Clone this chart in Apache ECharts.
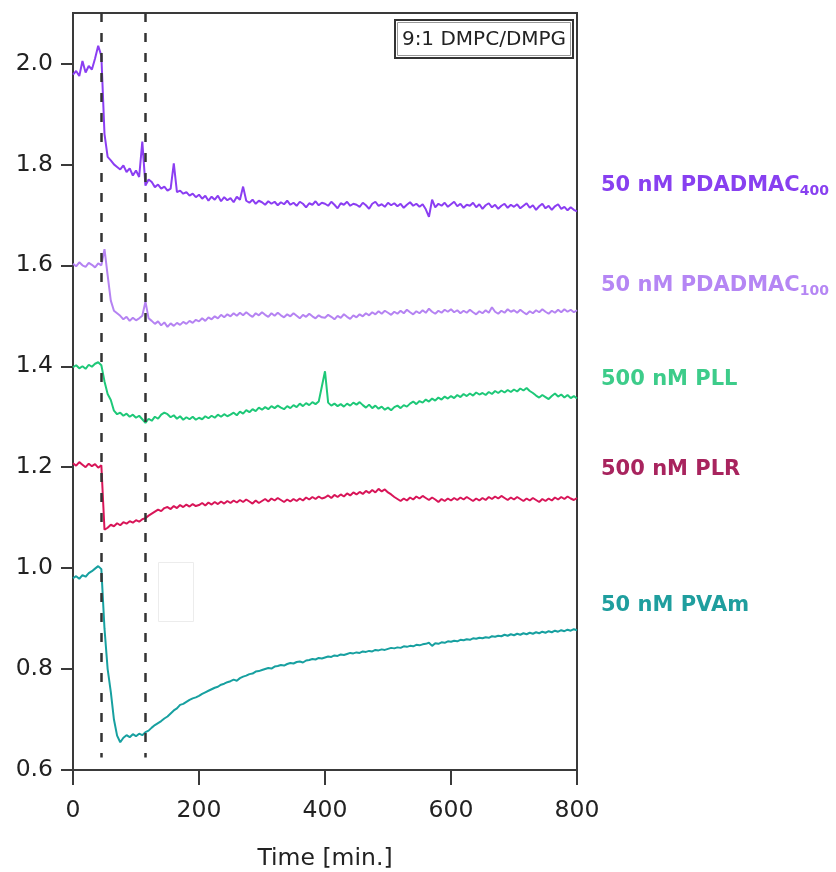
<!DOCTYPE html>
<html><head><meta charset="utf-8">
<script src="https://cdn.jsdelivr.net/npm/echarts@6/dist/echarts.min.js"></script>
<style>html,body{margin:0;padding:0;background:#fff}#c{width:836px;height:872px}</style>
</head><body><div id="c"></div>
<script>
// Sampling times (min)
const times = [0,5,10,15,20,25,30,35,40,45,50,55,60,65,70,75,80,85,90,95,
100,105,110,115,120,125,130,135,140,145,150,155,160,165,170,175,180,185,190,195,
200,205,210,215,220,225,230,235,240,245,250,255,260,265,270,275,280,285,290,295,
300,305,310,315,320,325,330,335,340,345,350,355,360,365,370,375,380,385,390,395,
400,405,410,415,420,425,430,435,440,445,450,455,460,465,470,475,480,485,490,495,
500,505,510,515,520,525,530,535,540,545,550,555,560,565,570,575,580,585,590,595,
600,605,610,615,620,625,630,635,640,645,650,655,660,665,670,675,680,685,690,695,
700,705,710,715,720,725,730,735,740,745,750,755,760,765,770,775,780,785,790,795,800];

const pdadmac400 = [1.978,1.985,1.975,2.005,1.982,1.995,1.988,2.010,2.035,2.015,
1.860,1.815,1.808,1.800,1.795,1.790,1.798,1.785,1.792,1.778,
1.788,1.775,1.845,1.758,1.770,1.765,1.755,1.760,1.752,1.756,
1.748,1.752,1.802,1.745,1.748,1.742,1.745,1.738,1.742,1.735,
1.740,1.732,1.738,1.728,1.736,1.730,1.738,1.727,1.735,1.729,
1.733,1.725,1.736,1.730,1.756,1.728,1.724,1.730,1.722,1.728,
1.725,1.720,1.727,1.722,1.726,1.719,1.725,1.721,1.728,1.720,
1.724,1.718,1.726,1.722,1.715,1.723,1.720,1.727,1.719,1.724,
1.722,1.718,1.726,1.720,1.713,1.723,1.720,1.726,1.718,1.722,
1.720,1.716,1.724,1.719,1.712,1.722,1.726,1.718,1.721,1.716,
1.724,1.719,1.723,1.717,1.722,1.714,1.720,1.725,1.718,1.722,
1.716,1.721,1.711,1.696,1.730,1.715,1.722,1.718,1.724,1.716,
1.721,1.726,1.717,1.722,1.714,1.720,1.718,1.724,1.715,1.721,
1.712,1.719,1.723,1.715,1.720,1.712,1.718,1.722,1.714,1.720,
1.716,1.721,1.713,1.718,1.723,1.714,1.719,1.710,1.717,1.722,
1.713,1.718,1.710,1.717,1.721,1.712,1.716,1.709,1.715,1.710,1.707];

const pdadmac100 = [1.603,1.598,1.606,1.600,1.597,1.605,1.601,1.596,1.604,1.600,
1.632,1.580,1.530,1.510,1.505,1.500,1.493,1.498,1.490,1.496,
1.491,1.495,1.500,1.528,1.495,1.490,1.484,1.489,1.481,1.487,
1.478,1.485,1.480,1.486,1.482,1.488,1.484,1.490,1.486,1.492,
1.489,1.495,1.490,1.497,1.493,1.499,1.495,1.502,1.497,1.503,
1.499,1.505,1.500,1.506,1.501,1.507,1.502,1.498,1.505,1.501,
1.507,1.502,1.498,1.505,1.500,1.506,1.501,1.497,1.503,1.499,
1.505,1.500,1.495,1.502,1.498,1.504,1.499,1.495,1.501,1.497,
1.496,1.502,1.498,1.493,1.500,1.496,1.503,1.498,1.494,1.501,
1.497,1.503,1.499,1.505,1.501,1.507,1.503,1.509,1.504,1.510,
1.506,1.502,1.508,1.504,1.510,1.505,1.512,1.507,1.503,1.509,
1.505,1.511,1.506,1.514,1.508,1.504,1.510,1.506,1.512,1.508,
1.513,1.507,1.511,1.505,1.510,1.506,1.512,1.507,1.503,1.509,
1.505,1.511,1.506,1.517,1.508,1.504,1.510,1.506,1.513,1.508,
1.511,1.506,1.512,1.507,1.503,1.509,1.505,1.511,1.507,1.513,
1.508,1.504,1.510,1.506,1.512,1.507,1.513,1.508,1.512,1.507,1.511];

const pll = [1.398,1.402,1.396,1.400,1.395,1.403,1.399,1.405,1.408,1.402,
1.370,1.345,1.333,1.312,1.305,1.308,1.302,1.306,1.300,1.304,
1.298,1.302,1.295,1.288,1.296,1.292,1.300,1.296,1.304,1.308,
1.305,1.299,1.303,1.296,1.301,1.294,1.299,1.295,1.300,1.294,
1.298,1.295,1.301,1.297,1.302,1.298,1.304,1.300,1.305,1.301,
1.304,1.308,1.303,1.310,1.306,1.313,1.309,1.315,1.311,1.318,
1.314,1.319,1.315,1.321,1.317,1.322,1.318,1.315,1.321,1.317,
1.323,1.319,1.326,1.321,1.327,1.323,1.329,1.325,1.330,1.360,
1.390,1.328,1.322,1.326,1.321,1.325,1.320,1.326,1.322,1.328,
1.324,1.329,1.323,1.318,1.324,1.317,1.322,1.316,1.320,1.314,
1.318,1.313,1.319,1.322,1.317,1.323,1.320,1.326,1.330,1.325,
1.331,1.328,1.334,1.330,1.336,1.332,1.338,1.334,1.340,1.336,
1.341,1.337,1.343,1.339,1.345,1.341,1.346,1.342,1.348,1.344,
1.347,1.343,1.349,1.345,1.351,1.347,1.352,1.348,1.353,1.349,
1.354,1.350,1.356,1.352,1.357,1.351,1.347,1.342,1.338,1.343,
1.339,1.335,1.341,1.346,1.340,1.344,1.338,1.343,1.337,1.341,1.336];

const plr = [1.208,1.203,1.210,1.205,1.200,1.207,1.202,1.206,1.199,1.204,
1.076,1.080,1.086,1.083,1.089,1.085,1.091,1.088,1.093,1.090,
1.095,1.092,1.097,1.099,1.104,1.108,1.112,1.116,1.113,1.119,
1.121,1.117,1.123,1.119,1.125,1.121,1.126,1.122,1.127,1.123,
1.125,1.129,1.124,1.130,1.126,1.131,1.127,1.132,1.128,1.133,
1.129,1.134,1.130,1.135,1.131,1.136,1.132,1.128,1.134,1.129,
1.133,1.137,1.132,1.138,1.134,1.139,1.135,1.131,1.136,1.132,
1.137,1.133,1.138,1.134,1.140,1.136,1.141,1.137,1.142,1.138,
1.140,1.144,1.139,1.145,1.141,1.146,1.142,1.148,1.144,1.150,
1.146,1.151,1.147,1.153,1.149,1.155,1.150,1.157,1.152,1.156,
1.150,1.146,1.141,1.137,1.133,1.138,1.134,1.140,1.136,1.142,
1.138,1.143,1.139,1.135,1.140,1.136,1.131,1.137,1.133,1.138,
1.134,1.139,1.135,1.140,1.136,1.141,1.137,1.133,1.138,1.134,
1.139,1.135,1.141,1.137,1.142,1.138,1.143,1.139,1.135,1.140,
1.136,1.141,1.137,1.133,1.138,1.134,1.139,1.135,1.131,1.137,
1.133,1.138,1.134,1.140,1.136,1.141,1.137,1.142,1.138,1.135,1.139];

const pvam = [0.980,0.984,0.979,0.986,0.983,0.990,0.994,0.999,1.004,0.998,
0.880,0.800,0.755,0.700,0.668,0.655,0.664,0.669,0.665,0.671,
0.667,0.672,0.669,0.675,0.678,0.684,0.689,0.693,0.697,0.702,
0.706,0.712,0.718,0.722,0.729,0.731,0.735,0.739,0.742,0.744,
0.747,0.751,0.754,0.757,0.760,0.763,0.765,0.769,0.771,0.774,
0.776,0.779,0.777,0.782,0.785,0.787,0.790,0.791,0.795,0.796,
0.798,0.800,0.802,0.801,0.805,0.806,0.808,0.807,0.810,0.812,
0.811,0.814,0.815,0.813,0.817,0.818,0.820,0.819,0.822,0.821,
0.823,0.825,0.824,0.827,0.826,0.829,0.828,0.830,0.832,0.831,
0.833,0.832,0.835,0.834,0.836,0.835,0.838,0.837,0.839,0.838,
0.840,0.842,0.841,0.843,0.842,0.845,0.844,0.846,0.845,0.848,
0.847,0.849,0.850,0.852,0.846,0.851,0.850,0.853,0.852,0.855,
0.854,0.856,0.855,0.858,0.857,0.859,0.858,0.861,0.860,0.862,
0.861,0.863,0.862,0.865,0.864,0.866,0.865,0.868,0.866,0.869,
0.867,0.870,0.868,0.871,0.869,0.872,0.870,0.873,0.871,0.874,
0.872,0.875,0.873,0.876,0.874,0.877,0.875,0.878,0.876,0.879,0.877];

const xTicks = [0, 200, 400, 600, 800];
const yTicks = [0.6, 0.8, 1.0, 1.2, 1.4, 1.6, 1.8, 2.0];
const injectionTimes = [45, 114];
const seriesNames = ['50 nM PDADMAC400', '50 nM PDADMAC100', '500 nM PLL', '500 nM PLR', '50 nM PVAm'];
const seriesValues = [pdadmac400, pdadmac100, pll, plr, pvam];
const lineColors = ['#8b3ef2', '#b583f2', '#1ec878', '#d81558', '#17a0a0'];
const labelColors = ['#8840f0', '#b586f4', '#3dcc8a', '#a8245e', '#1f9e9e'];
const labelRich = ['{m|50 nM PDADMAC}{s|400}', '{m|50 nM PDADMAC}{s|100}', '{m|500 nM PLL}', '{m|500 nM PLR}', '{m|50 nM PVAm}'];
const labelY = [186, 286, 380, 470, 606];

const FONT = 'DejaVu Sans';
const AX = '#3a3a3a';

const chart = echarts.init(document.getElementById('c'), null, {renderer: 'canvas'});

const series = seriesValues.map((vals, k) => ({
  name: seriesNames[k],
  type: 'line',
  data: times.map((t, i) => [t, vals[i]]),
  showSymbol: false,
  symbol: 'none',
  lineStyle: {color: lineColors[k], width: 2},
  itemStyle: {color: lineColors[k]},
  animation: false,
  silent: true,
  z: 3
}));

series[0].markLine = {
  silent: true,
  symbol: ['none', 'none'],
  label: {show: false},
  animation: false,
  lineStyle: {type: [9, 11], color: '#333', width: 2.5},
  data: injectionTimes.map(t => [{coord: [t, 2.1]}, {coord: [t, 0.625]}])
};

const graphics = [
  {type: 'rect', shape: {x: 158.5, y: 562.5, width: 35, height: 59}, style: {fill: '#fff', stroke: '#ececec', lineWidth: 1}, z: 1, silent: true},
  {type: 'rect', shape: {x: 395, y: 20, width: 178, height: 38}, style: {fill: '#fff', stroke: '#333', lineWidth: 2}, z: 10, silent: true},
  {type: 'rect', shape: {x: 397.5, y: 22.5, width: 173, height: 33}, style: {fill: 'none', stroke: '#999', lineWidth: 1}, z: 10, silent: true},
  {type: 'text', x: 484, y: 39.5, z: 11, silent: true,
   style: {text: '9:1 DMPC/DMPG', font: '20px "DejaVu Sans"', fill: '#222', textAlign: 'center', textVerticalAlign: 'middle'}}
];
labelRich.forEach((txt, k) => {
  graphics.push({
    type: 'text', x: 601, y: labelY[k], z: 11, silent: true,
    style: {
      text: txt,
      textVerticalAlign: 'middle',
      textAlign: 'left',
      fill: labelColors[k],
      rich: {
        m: {fontFamily: FONT, fontWeight: 'bold', fontSize: 21, lineHeight: 24, fill: labelColors[k], color: labelColors[k]},
        s: {fontFamily: FONT, fontWeight: 'bold', fontSize: 14, lineHeight: 10, verticalAlign: 'bottom', fill: labelColors[k], color: labelColors[k]}
      }
    }
  });
});

chart.setOption({
  animation: false,
  backgroundColor: '#fff',
  grid: {left: 73, right: 259, top: 13, bottom: 102, containLabel: false, outerBoundsMode: 'none',
         show: true, borderColor: AX, borderWidth: 2, backgroundColor: 'transparent'},
  xAxis: {
    type: 'value', min: 0, max: 800, interval: 200,
    axisLine: {show: true, lineStyle: {color: AX, width: 2}},
    axisTick: {show: true, inside: false, length: 15, lineStyle: {color: AX, width: 2}, customValues: xTicks},
    axisLabel: {fontFamily: FONT, fontSize: 23.5, color: '#222', margin: 29, customValues: xTicks},
    splitLine: {show: false},
    name: 'Time [min.]', nameLocation: 'middle', nameGap: 77,
    nameTextStyle: {fontFamily: FONT, fontSize: 23.5, color: '#222'}
  },
  yAxis: {
    type: 'value', min: 0.6, max: 2.1,
    axisLine: {show: true, lineStyle: {color: AX, width: 2}},
    axisTick: {show: true, inside: false, length: 12, lineStyle: {color: AX, width: 2}, customValues: yTicks},
    axisLabel: {fontFamily: FONT, fontSize: 23.5, color: '#222', margin: 20, customValues: yTicks,
                formatter: v => Number(v).toFixed(1)},
    splitLine: {show: false}
  },
  series: series,
  graphic: graphics
});
</script>
</body></html>
